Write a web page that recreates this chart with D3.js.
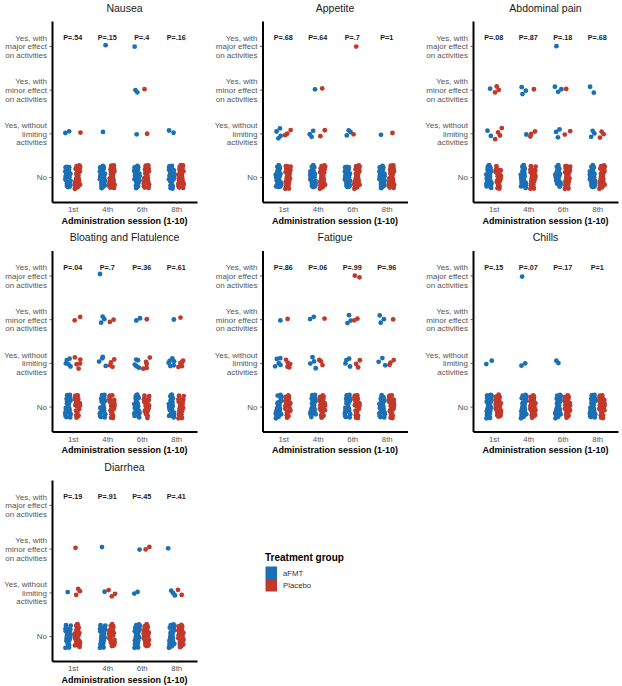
<!DOCTYPE html>
<html>
<head>
<meta charset="utf-8">
<script src="https://cdn.jsdelivr.net/npm/d3@7/dist/d3.min.js"></script>
<style>
  html, body { margin: 0; padding: 0; background: #fff; }
  svg { display: block; font-family: "Liberation Sans", Arial, sans-serif; }
</style>
</head>
<body>
<svg id="chart" width="622" height="686"></svg>
<script>
// ---------------- DATA ----------------
const symptoms = ["Nausea", "Appetite", "Abdominal pain", "Bloating and Flatulence", "Fatigue", "Chills", "Diarrhea"];
const sessions = ["1st", "4th", "6th", "8th"];
const levelLabels = [
  ["No"],
  ["Yes, without", "limiting", "activities"],
  ["Yes, with", "minor effect", "on activities"],
  ["Yes, with", "major effect", "on activities"]
];
const groups = ["aFMT", "Placebo"];
const groupTotals = [31, 31];

const pNausea    = ["P=.54", "P=.15", "P=.4",  "P=.16"];
const pAppetite  = ["P=.68", "P=.64", "P=.7",  "P=1"];
const pAbdominal = ["P=.08", "P=.87", "P=.18", "P=.68"];
const pBloating  = ["P=.04", "P=.7",  "P=.36", "P=.61"];
const pFatigue   = ["P=.86", "P=.06", "P=.99", "P=.96"];
const pChills    = ["P=.15", "P=.07", "P=.17", "P=1"];
const pDiarrhea  = ["P=.19", "P=.91", "P=.45", "P=.41"];

// counts per session: [without limiting, minor effect, major effect]; "No" = total - sum
const nauseaAFMT       = [[2,0,0],[1,0,1],[1,2,1],[2,0,0]];
const nauseaPlacebo    = [[1,0,0],[0,0,0],[1,1,0],[0,0,0]];
const appetiteAFMT     = [[4,0,0],[3,1,0],[3,0,0],[1,0,0]];
const appetitePlacebo  = [[3,0,0],[2,1,0],[1,0,1],[1,0,0]];
const abdominalAFMT    = [[2,1,0],[1,3,0],[3,3,1],[3,2,0]];
const abdominalPlacebo = [[4,3,0],[3,1,0],[2,1,0],[3,0,0]];
const bloatingAFMT     = [[5,0,0],[4,3,1],[5,2,0],[6,1,0]];
const bloatingPlacebo  = [[5,2,0],[4,2,0],[5,1,0],[5,1,0]];
const fatigueAFMT      = [[5,1,0],[4,2,0],[4,3,0],[3,3,0]];
const fatiguePlacebo   = [[5,1,0],[3,1,0],[3,2,2],[3,1,0]];
const chillsAFMT       = [[2,0,0],[2,0,1],[2,0,0],[0,0,0]];
const chillsPlacebo    = [[0,0,0],[0,0,0],[0,0,0],[0,0,0]];
const diarrheaAFMT     = [[1,0,0],[1,1,0],[2,1,0],[3,1,0]];
const diarrheaPlacebo  = [[3,1,0],[3,0,0],[0,2,0],[2,0,0]];

const panelCounts = [
  [nauseaAFMT, nauseaPlacebo], [appetiteAFMT, appetitePlacebo],
  [abdominalAFMT, abdominalPlacebo], [bloatingAFMT, bloatingPlacebo],
  [fatigueAFMT, fatiguePlacebo], [chillsAFMT, chillsPlacebo],
  [diarrheaAFMT, diarrheaPlacebo]
];
const panelP = [pNausea, pAppetite, pAbdominal, pBloating, pFatigue, pChills, pDiarrhea];

// ---------------- STYLE / LAYOUT ----------------
const colors = ["#1b6fb5", "#c1392b"];
const colLeft = [52, 262.5, 473];
const rowOff = [0, 229.5, 459];
const plotW = 145;
const plotTop = 21, plotBottom = 202;
const font = "'Liberation Sans', Arial, sans-serif";

const svg = d3.select("#chart");

// deterministic low-discrepancy jitter (Halton sequence)
function vdc(n, base) {
  let v = 0, denom = 1;
  while (n > 0) { denom *= base; v += (n % base) / denom; n = Math.floor(n / base); }
  return v;
}

symptoms.forEach((name, pi) => {
  const col = pi % 3, row = Math.floor(pi / 3);
  const left = colLeft[col], top = rowOff[row];
  const g = svg.append("g");

  const x = d3.scaleLinear().domain([0.4, 4.6]).range([left, left + plotW]);
  const y = d3.scaleLinear().domain([0.43, 4.57]).range([top + plotBottom, top + plotTop]);

  g.append("text")
    .attr("x", left + plotW / 2).attr("y", top + 11.5)
    .attr("text-anchor", "middle")
    .attr("font-size", 10.5).attr("fill", "#1a1a1a")
    .text(name);

  const pts = [];
  groups.forEach((grp, gi) => {
    const counts = panelCounts[pi][gi];
    sessions.forEach((s, si) => {
      const c = counts[si];
      const levelsN = [groupTotals[gi] - d3.sum(c), c[0], c[1], c[2]];
      levelsN.forEach((n, li) => {
        const jyAmp = li === 0 ? 12 : Math.min(6, 1.6 * n);
        const jxAmp = li === 0 ? 2.8 : 3.5;
        for (let i = 0; i < n; i++) {
          const idx = ((i * 17 + si * 5 + gi * 11 + pi * 7 + li * 3) % 97) + 1;
          pts.push({
            gi, si, li,
            dx: (gi === 0 ? -4.7 : 4.7) + (vdc(idx, 2) - 0.5) * 2 * jxAmp,
            dy: (vdc(idx, 3) - 0.5) * 2 * jyAmp
          });
        }
      });
    });
  });
  g.append("g").selectAll("circle").data(pts).join("circle")
    .attr("cx", d => x(d.si + 1) + d.dx)
    .attr("cy", d => y(d.li + 1) + d.dy)
    .attr("r", 2.4)
    .attr("fill", d => colors[d.gi]);

  g.append("g").selectAll("text").data(panelP[pi]).join("text")
    .attr("x", (d, i) => x(i + 1))
    .attr("y", y(4) - 5.5)
    .attr("text-anchor", "middle")
    .attr("font-size", 7.2).attr("font-weight", "bold").attr("fill", "#1a1a1a")
    .text(d => d);

  const yAxis = d3.axisLeft(y).tickValues([1, 2, 3, 4]).tickSize(2.5).tickSizeOuter(0).tickFormat("");
  const ya = g.append("g").attr("transform", `translate(${left},0)`).call(yAxis);
  ya.select(".domain").attr("stroke", "#000").attr("stroke-width", 2);
  ya.selectAll(".tick line").attr("stroke", "#333").attr("stroke-width", 0.8);
  ya.selectAll(".tick").each(function(d) {
    const lines = levelLabels[d - 1];
    const t = d3.select(this).append("text")
      .attr("x", -5).attr("fill", "#555")
      .attr("font-size", 8).attr("font-family", font)
      .attr("text-anchor", "end");
    lines.forEach((ln, k) => {
      t.append("tspan").attr("x", -5)
        .attr("y", (k - (lines.length - 1) / 2) * 8.7 + 2.9)
        .text(ln);
    });
  });

  const xAxis = d3.axisBottom(x).tickValues([1, 2, 3, 4]).tickSize(2).tickSizeOuter(0)
    .tickFormat((d) => sessions[d - 1]);
  const xa = g.append("g").attr("transform", `translate(0,${top + plotBottom})`).call(xAxis);
  xa.select(".domain").attr("stroke", "#000").attr("stroke-width", 2);
  xa.selectAll(".tick line").attr("stroke", "#333").attr("stroke-width", 0.8);
  xa.selectAll(".tick text").attr("fill", "#555").attr("font-size", 7.8)
    .attr("font-family", font).attr("y", 4.5);

  g.append("text")
    .attr("x", left + plotW / 2).attr("y", top + 223.5)
    .attr("text-anchor", "middle")
    .attr("font-size", 9).attr("font-weight", "bold").attr("fill", "#000")
    .text("Administration session (1-10)");
});

const lg = svg.append("g");
lg.append("text").attr("x", 265).attr("y", 560.5)
  .attr("font-size", 10).attr("font-weight", "bold").attr("fill", "#000")
  .text("Treatment group");
groups.forEach((grp, gi) => {
  lg.append("rect").attr("x", 265.5).attr("y", 566.5 + gi * 12.5)
    .attr("width", 11.5).attr("height", 12.5).attr("fill", colors[gi]);
  lg.append("text").attr("x", 283).attr("y", 573 + gi * 12.5 + 2.7)
    .attr("font-size", 7.8).attr("fill", "#333")
    .text(grp);
});
</script>
</body>
</html>
